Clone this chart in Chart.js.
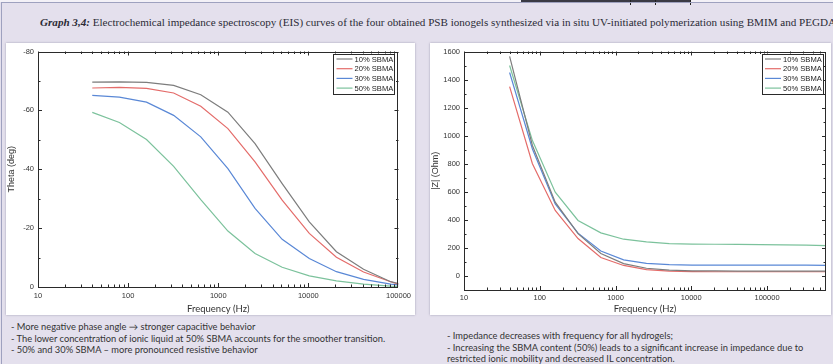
<!DOCTYPE html>
<html>
<head>
<meta charset="utf-8">
<script src="https://cdn.jsdelivr.net/npm/chart.js@4.4.1/dist/chart.umd.min.js"></script>
<style>
  html, body { margin: 0; padding: 0; }
  body { width: 833px; height: 364px; overflow: hidden; background: #e4e0ed; position: relative; }
  #strip { position: absolute; left: 0; top: 0; width: 833px; height: 2px; background: #f3f1f7; }
  #strip-mark { position: absolute; left: 521px; top: 0; width: 170px; height: 2px; background: #3a3a44; }
  .mark { position: absolute; top: 0; width: 1px; height: 5px; background: #222; }
  #frame { position: absolute; left: 1px; top: 2px; width: 840px; height: 400px;
           border-left: 1px solid #9ea1bf; border-top: 1px solid #9ea1bf; }
  #title { position: absolute; left: 40px; top: 16px; white-space: nowrap;
           font-family: 'Liberation Serif', 'DejaVu Serif', serif; font-size: 11.1px; color: #2b2b36; }
  #title b { font-style: italic; }
  .panel { position: absolute; top: 43px; height: 272px; background: #fff;
           box-shadow: 0 0 2px rgba(90, 90, 120, 0.5); }
  #p1 { left: 6px; width: 409px; }
  #p2 { left: 430px; width: 401px; }
  .panel canvas { position: absolute; left: 0; top: 0; }
  .notes { position: absolute; font-family: Lato, 'Open Sans', sans-serif; font-size: 9.3px;
           color: #333; line-height: 11.6px; white-space: nowrap; }
  #n1 { left: 11px; top: 321px; }
  #n2 { left: 447px; top: 330px; }
</style>
</head>
<body>
<div id="strip"></div>
<div id="strip-mark"></div>
<div class="mark" style="left:630px"></div>
<div class="mark" style="left:655px"></div>
<div class="mark" style="left:690px"></div>
<div id="frame"></div>
<div id="title"><b>Graph 3,4:</b> Electrochemical impedance spectroscopy (EIS) curves of the four obtained PSB ionogels synthesized via in situ UV-initiated polymerization using BMIM and PEGDA</div>

<div class="panel" id="p1"><canvas id="c1" width="409" height="272"></canvas></div>
<div class="panel" id="p2"><canvas id="c2" width="401" height="272"></canvas></div>

<div class="notes" id="n1">
  - More negative phase angle &rarr; stronger capacitive behavior<br>
  - The lower concentration of ionic liquid at 50% SBMA accounts for the smoother transition.<br>
  - 50% and 30% SBMA &ndash; more pronounced resistive behavior
</div>
<div class="notes" id="n2">
  - Impedance decreases with frequency for all hydrogels;<br>
  - Increasing the SBMA content (50%) leads to a significant increase in impedance due to<br>
  restricted ionic mobility and decreased IL concentration.
</div>

<script>
// ---- data ----
const seriesNames = ['10% SBMA', '20% SBMA', '30% SBMA', '50% SBMA'];
const seriesColors = ['#7d7d7d', '#e46c6a', '#5a88d6', '#7cc29c'];

// phase angle (deg) vs frequency (Hz)
const freqTheta = [40, 80, 160, 320, 640, 1280, 2560, 5120, 10240, 20480, 40960, 81920, 100000];
const theta10 = [-69.6, -69.7, -69.5, -68.5, -65.3, -59.4, -48.7, -35.1, -22.1, -12.0, -6.0, -1.8, -1.2];
const theta20 = [-67.6, -67.8, -67.5, -65.9, -61.4, -53.8, -42.5, -29.5, -18.2, -10.1, -5.1, -1.8, -1.0];
const theta30 = [-65.1, -64.5, -62.8, -58.3, -51.0, -40.2, -26.7, -16.2, -9.7, -5.2, -2.6, -1.0, -0.7];
const theta50 = [-59.3, -55.9, -50.1, -41.0, -29.7, -19.0, -11.4, -6.7, -3.8, -2.1, -1.0, -0.3, -0.2];

// impedance modulus (Ohm) vs frequency (Hz)
const freqZ = [40, 80, 160, 320, 640, 1280, 2560, 5120, 10240, 20480, 40960, 81920, 163840, 327680, 600000];
const z10 = [1565, 930, 526, 302, 160, 88, 55, 42, 37, 36, 35, 35, 35, 35, 35];
const z20 = [1350, 800, 467, 267, 132, 75, 45, 34, 31, 30, 30, 30, 30, 30, 30];
const z30 = [1450, 905, 514, 305, 178, 115, 90, 81, 78, 78, 77, 77, 77, 77, 76];
const z50 = [1500, 965, 597, 396, 307, 262, 243, 231, 227, 226, 225, 224, 222, 220, 217];

// axis ticks
const freqTicks = [10, 100, 1000, 10000, 100000];
const thetaTicks = [-80, -60, -40, -20, 0];
const zTicks = [0, 200, 400, 600, 800, 1000, 1200, 1400, 1600];

// ---- helpers ----
function pts(xs, ys) { return xs.map((x, i) => ({ x: x, y: ys[i] })); }

function logMinor(min, max) {
  const out = [];
  for (let d = Math.pow(10, Math.floor(Math.log10(min))); d <= max; d *= 10) {
    for (let m = 2; m <= 9; m++) {
      const v = m * d;
      if (v > min && v < max) out.push(v);
    }
  }
  return out;
}
function midMinor(ticks) {
  const out = [];
  for (let i = 0; i < ticks.length - 1; i++) out.push((ticks[i] + ticks[i + 1]) / 2);
  return out;
}

// frame around the plot area with inward tick marks on all four sides
const frameTicks = {
  id: 'frameTicks',
  afterDatasetsDraw(chart, args, o) {
    const { ctx, chartArea: a, scales } = chart;
    const xs = scales.x, ys = scales.y;
    ctx.save();
    ctx.strokeStyle = '#2a2a2a';
    ctx.lineWidth = 1;
    ctx.strokeRect(Math.round(a.left) + 0.5, Math.round(a.top) + 0.5,
                   Math.round(a.right - a.left) - 1, Math.round(a.bottom - a.top) - 1);
    ctx.beginPath();
    const xt = (v, len) => {
      const p = Math.round(xs.getPixelForValue(v)) + 0.5;
      if (p < a.left || p > a.right) return;
      ctx.moveTo(p, a.bottom); ctx.lineTo(p, a.bottom - len);
      ctx.moveTo(p, a.top); ctx.lineTo(p, a.top + len);
    };
    const yt = (v, len) => {
      const p = Math.round(ys.getPixelForValue(v)) + 0.5;
      if (p < a.top || p > a.bottom) return;
      ctx.moveTo(a.left, p); ctx.lineTo(a.left + len, p);
      ctx.moveTo(a.right, p); ctx.lineTo(a.right - len, p);
    };
    o.xMajor.forEach(v => xt(v, 4));
    o.xMinor.forEach(v => xt(v, 2.5));
    o.yMajor.forEach(v => yt(v, 4));
    o.yMinor.forEach(v => yt(v, 2.5));
    ctx.stroke();
    ctx.restore();
  }
};

// boxed legend in the upper-right corner of the plot area
const boxLegend = {
  id: 'boxLegend',
  afterDatasetsDraw(chart, args, o) {
    const { ctx, chartArea: a } = chart;
    const right = a.right - o.inset, left = right - 61, top = a.top + 2, h = 40;
    ctx.save();
    ctx.fillStyle = '#ffffff';
    ctx.fillRect(left, top, right - left, h);
    ctx.strokeStyle = '#2a2a2a';
    ctx.lineWidth = 1;
    ctx.strokeRect(Math.round(left) + 0.5, Math.round(top) + 0.5, right - left, h);
    ctx.font = '7.6px "Liberation Sans", Arial, sans-serif';
    ctx.textBaseline = 'middle';
    chart.data.datasets.forEach((ds, i) => {
      const y = top + 5.5 + i * 9.7;
      ctx.strokeStyle = ds.borderColor;
      ctx.lineWidth = 1.2;
      ctx.beginPath();
      ctx.moveTo(left + 3, y); ctx.lineTo(left + 19, y);
      ctx.stroke();
      ctx.fillStyle = '#222';
      ctx.fillText(ds.label, left + 21, y + 0.5);
    });
    ctx.restore();
  }
};

const tickFont = { family: "'Liberation Sans', Arial, sans-serif", size: 7.5 };

function makeChart(id, cfg) {
  const datasets = cfg.series.map((ys, i) => ({
    label: seriesNames[i],
    data: pts(cfg.freq, ys),
    borderColor: seriesColors[i],
    backgroundColor: seriesColors[i],
    borderWidth: 1.2,
    pointRadius: 0,
    tension: 0,
    fill: false
  }));
  return new Chart(document.getElementById(id), {
    type: 'line',
    data: { datasets: datasets },
    options: {
      responsive: false,
      animation: false,
      devicePixelRatio: 1,
      layout: { padding: { top: cfg.padTop, right: cfg.padRight, left: 0, bottom: 0 } },
      plugins: {
        legend: { display: false },
        tooltip: { enabled: false },
        frameTicks: { xMajor: freqTicks, xMinor: logMinor(10, cfg.xMax), yMajor: cfg.yTicks, yMinor: cfg.yMinor },
        boxLegend: { inset: cfg.legendInset }
      },
      scales: {
        x: {
          type: 'logarithmic',
          min: 10,
          max: cfg.xMax,
          afterBuildTicks: s => { s.ticks = freqTicks.map(v => ({ value: v })); },
          afterFit: s => { s.height = cfg.xHeight; },
          grid: { display: false, drawTicks: false },
          border: { display: false },
          ticks: { autoSkip: false, maxRotation: 0, padding: cfg.xTickPad, font: tickFont, color: '#333',
                   callback: v => String(v) },
          title: { display: true, text: 'Frequency (Hz)', color: '#333',
                   font: { family: "Lato, 'Open Sans', sans-serif", size: 9.5 }, padding: { top: cfg.xTitlePad, bottom: 0 } }
        },
        y: {
          type: 'linear',
          min: cfg.yMin,
          max: cfg.yMax,
          reverse: cfg.reverse,
          afterBuildTicks: s => { s.ticks = cfg.yTicks.map(v => ({ value: v })); },
          afterFit: s => { s.width = cfg.yWidth; },
          grid: { display: false, drawTicks: false },
          border: { display: false },
          ticks: { padding: 4, font: tickFont, color: '#333', callback: v => String(v) },
          title: { display: true, text: cfg.yTitle, color: '#333',
                   font: { family: "'Liberation Sans', Arial, sans-serif", size: 9 }, padding: { top: 0, bottom: 0 } }
        }
      }
    },
    plugins: [frameTicks, boxLegend]
  });
}

makeChart('c1', {
  freq: freqTheta,
  series: [theta10, theta20, theta30, theta50],
  xMax: 100000,
  yMin: -80, yMax: 0, reverse: true,
  yTicks: thetaTicks, yMinor: midMinor(thetaTicks),
  yTitle: 'Theta (deg)',
  padTop: 8, padRight: 12, yWidth: 32, xHeight: 28,
  xTickPad: 4, xTitlePad: 3,
  legendInset: 4
});

makeChart('c2', {
  freq: freqZ,
  series: [z10, z20, z30, z50],
  xMax: 600000,
  yMin: -100, yMax: 1600, reverse: false,
  yTicks: zTicks, yMinor: midMinor(zTicks),
  yTitle: '|Z| (Ohm)',
  padTop: 7, padRight: 5, yWidth: 34, xHeight: 25,
  xTickPad: 3, xTitlePad: 2,
  legendInset: 3
});
</script>
</body>
</html>
